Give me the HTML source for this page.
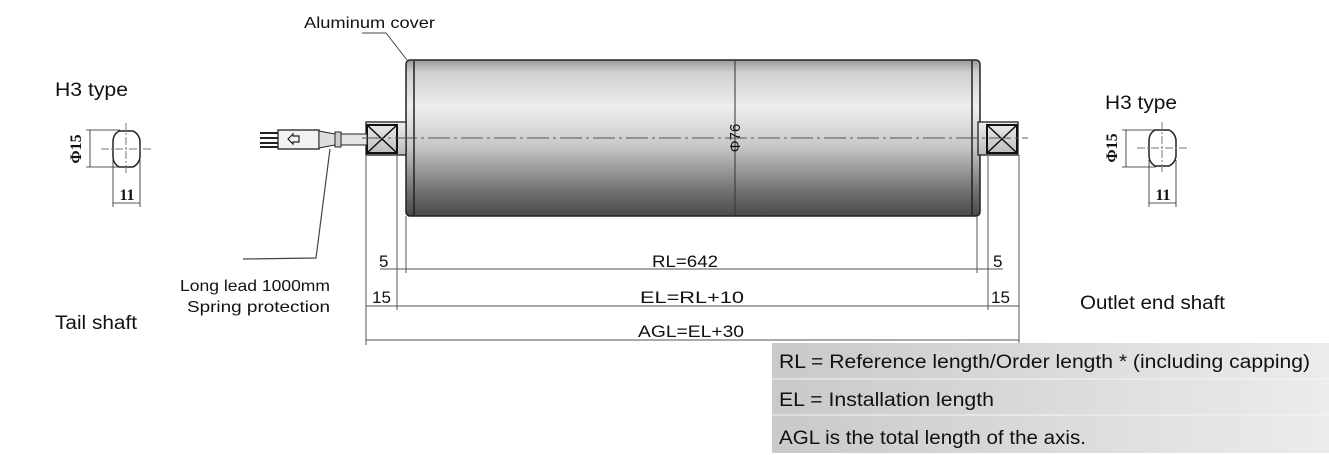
<!DOCTYPE html>
<html><head><meta charset="utf-8"><style>
html,body{margin:0;padding:0;background:#fff;width:1329px;height:455px;overflow:hidden}
svg{display:block}
text{font-family:"Liberation Sans",sans-serif;fill:#111}
.s{font-family:"Liberation Serif",serif;font-weight:bold}
</style></head><body>
<svg width="1329" height="455" viewBox="0 0 1329 455" xmlns="http://www.w3.org/2000/svg">
<defs>
<linearGradient id="rg" x1="0" y1="0" x2="0" y2="1">
<stop offset="0" stop-color="#9a9a9a"/>
<stop offset="0.08" stop-color="#cfcfcf"/>
<stop offset="0.3" stop-color="#eeeeee"/>
<stop offset="0.55" stop-color="#c8c8c8"/>
<stop offset="0.85" stop-color="#6e6e6e"/>
<stop offset="1" stop-color="#4a4a4a"/>
</linearGradient>
<linearGradient id="sg" x1="0" y1="0" x2="0" y2="1">
<stop offset="0" stop-color="#eee"/><stop offset="1" stop-color="#bbb"/>
</linearGradient>
<linearGradient id="lg" x1="0" y1="0" x2="1" y2="0">
<stop offset="0" stop-color="#c9c9c9"/><stop offset="1" stop-color="#ececec"/>
</linearGradient>
</defs>

<rect x="406" y="60" width="574" height="156" rx="4" fill="url(#rg)" stroke="#222" stroke-width="1.5"/>
<line x1="414" y1="61" x2="414" y2="215" stroke="#222" stroke-width="1.5"/>
<line x1="972" y1="61" x2="972" y2="215" stroke="#222" stroke-width="1.5"/>
<line x1="735" y1="61" x2="735" y2="215" stroke="#333" stroke-width="1"/>
<text x="740" y="138" font-size="15" transform="rotate(-90 740 138)" text-anchor="middle">Φ76</text>

<rect x="366" y="122" width="40" height="33" fill="url(#sg)" stroke="#222" stroke-width="1.3"/>
<rect x="367" y="125" width="30" height="28" fill="none" stroke="#111" stroke-width="2"/>
<path d="M367 125 L397 153 M397 125 L367 153" stroke="#111" stroke-width="1.5"/>
<rect x="978" y="122" width="40" height="33" fill="url(#sg)" stroke="#222" stroke-width="1.3"/>
<rect x="987" y="125" width="30" height="28" fill="none" stroke="#111" stroke-width="2"/>
<path d="M987 125 L1017 153 M1017 125 L987 153" stroke="#111" stroke-width="1.5"/>

<path d="M260 133 H278 M260 138 H278 M260 143 H278 M260 147 H278" stroke="#222" stroke-width="2"/>
<rect x="278" y="130" width="41" height="19" fill="#f2f2f2" stroke="#222" stroke-width="1.3"/>
<path d="M319 131 L335 134 L335 145 L319 148 Z" fill="#ddd" stroke="#222" stroke-width="1"/>
<rect x="335" y="132" width="6" height="15" fill="#ccc" stroke="#222" stroke-width="1"/>
<rect x="341" y="134" width="26" height="11" fill="#e4e4e4" stroke="#222" stroke-width="1"/>
<path d="M288 139 L293 134 L293 136 L299 136 L299 142 L293 142 L293 144 Z" fill="none" stroke="#222" stroke-width="1.2"/>

<line x1="362" y1="138" x2="1028" y2="138" stroke="#555" stroke-width="1" stroke-dasharray="22,4,3,4"/>

<path d="M330 149 L316 258 L243 259" fill="none" stroke="#444" stroke-width="1.2"/>
<path d="M362 33 L386 33 L407 60" fill="none" stroke="#444" stroke-width="1"/>
<text x="304" y="28" font-size="16" textLength="131" lengthAdjust="spacingAndGlyphs">Aluminum cover</text>

<g stroke="#555" stroke-width="1">
<line x1="366" y1="155" x2="366" y2="345"/>
<line x1="397" y1="155" x2="397" y2="310"/>
<line x1="406" y1="216" x2="406" y2="273"/>
<line x1="977" y1="216" x2="977" y2="273"/>
<line x1="988" y1="155" x2="988" y2="310"/>
<line x1="1019" y1="155" x2="1019" y2="345"/>
<line x1="380" y1="269" x2="1003" y2="269"/>
<line x1="366" y1="306" x2="1019" y2="306"/>
<line x1="366" y1="340" x2="1019" y2="340"/>
</g>
<g font-size="17">
<text x="379" y="267">5</text>
<text x="652" y="267" textLength="66" lengthAdjust="spacingAndGlyphs">RL=642</text>
<text x="993" y="267">5</text>
<text x="372" y="303" textLength="19" lengthAdjust="spacingAndGlyphs">15</text>
<text x="640" y="303" textLength="104" lengthAdjust="spacingAndGlyphs">EL=RL+10</text>
<text x="991" y="303" textLength="19" lengthAdjust="spacingAndGlyphs">15</text>
<text x="638" y="337" textLength="106" lengthAdjust="spacingAndGlyphs">AGL=EL+30</text>
</g>

<text x="55" y="96" font-size="19" textLength="73" lengthAdjust="spacingAndGlyphs">H3 type</text>
<text x="1105" y="109" font-size="19" textLength="72" lengthAdjust="spacingAndGlyphs">H3 type</text>
<text x="55" y="329" font-size="19" textLength="82" lengthAdjust="spacingAndGlyphs">Tail shaft</text>
<text x="1080" y="309" font-size="19" textLength="145" lengthAdjust="spacingAndGlyphs">Outlet end shaft</text>
<text x="180" y="291" font-size="16" textLength="150" lengthAdjust="spacingAndGlyphs">Long lead 1000mm</text>
<text x="187" y="312" font-size="16" textLength="143" lengthAdjust="spacingAndGlyphs">Spring protection</text>

<g stroke="#222" fill="none">
<path d="M119 131 H133 A12 12 0 0 1 140 141 V157 A12 12 0 0 1 133 167 H119 A12 12 0 0 1 113 157 V141 A12 12 0 0 1 119 131 Z" stroke-width="1.5"/>
<line x1="101" y1="149" x2="153" y2="149" stroke="#777" stroke-dasharray="8,2,2,2"/>
<line x1="126" y1="123" x2="126" y2="175" stroke="#777" stroke-dasharray="8,2,2,2"/>
<line x1="86" y1="130" x2="120" y2="130" stroke-width="0.8"/>
<line x1="86" y1="167" x2="120" y2="167" stroke-width="0.8"/>
<line x1="90" y1="130" x2="90" y2="167" stroke-width="0.8"/>
<line x1="113" y1="160" x2="113" y2="207" stroke-width="0.8"/>
<line x1="140" y1="160" x2="140" y2="207" stroke-width="0.8"/>
<line x1="113" y1="203" x2="140" y2="203" stroke-width="0.8"/>
</g>
<text class="s" x="81" y="149" font-size="16" transform="rotate(-90 81 149)" text-anchor="middle">Φ15</text>
<text class="s" x="127" y="200" font-size="16" text-anchor="middle">11</text>

<g stroke="#222" fill="none">
<path d="M1155 130 H1169 A12 12 0 0 1 1176 140 V156 A12 12 0 0 1 1169 166 H1155 A12 12 0 0 1 1149 156 V140 A12 12 0 0 1 1155 130 Z" stroke-width="1.5"/>
<line x1="1137" y1="148" x2="1189" y2="148" stroke="#777" stroke-dasharray="8,2,2,2"/>
<line x1="1162" y1="122" x2="1162" y2="174" stroke="#777" stroke-dasharray="8,2,2,2"/>
<line x1="1122" y1="130" x2="1156" y2="130" stroke-width="0.8"/>
<line x1="1122" y1="167" x2="1156" y2="167" stroke-width="0.8"/>
<line x1="1126" y1="130" x2="1126" y2="167" stroke-width="0.8"/>
<line x1="1149" y1="160" x2="1149" y2="207" stroke-width="0.8"/>
<line x1="1176" y1="160" x2="1176" y2="207" stroke-width="0.8"/>
<line x1="1149" y1="203" x2="1176" y2="203" stroke-width="0.8"/>
</g>
<text class="s" x="1117" y="148" font-size="16" transform="rotate(-90 1117 148)" text-anchor="middle">Φ15</text>
<text class="s" x="1163" y="200" font-size="16" text-anchor="middle">11</text>

<rect x="772" y="343" width="557" height="110" fill="url(#lg)"/>
<line x1="772" y1="379" x2="1329" y2="379" stroke="#f4f4f4" stroke-width="1"/>
<line x1="772" y1="415" x2="1329" y2="415" stroke="#f4f4f4" stroke-width="1"/>
<text x="779" y="368" font-size="19" textLength="531" lengthAdjust="spacingAndGlyphs">RL = Reference length/Order length * (including capping)</text>
<text x="779" y="406" font-size="19" textLength="215" lengthAdjust="spacingAndGlyphs">EL = Installation length</text>
<text x="779" y="444" font-size="19" textLength="307" lengthAdjust="spacingAndGlyphs">AGL is the total length of the axis.</text>
</svg>
</body></html>
